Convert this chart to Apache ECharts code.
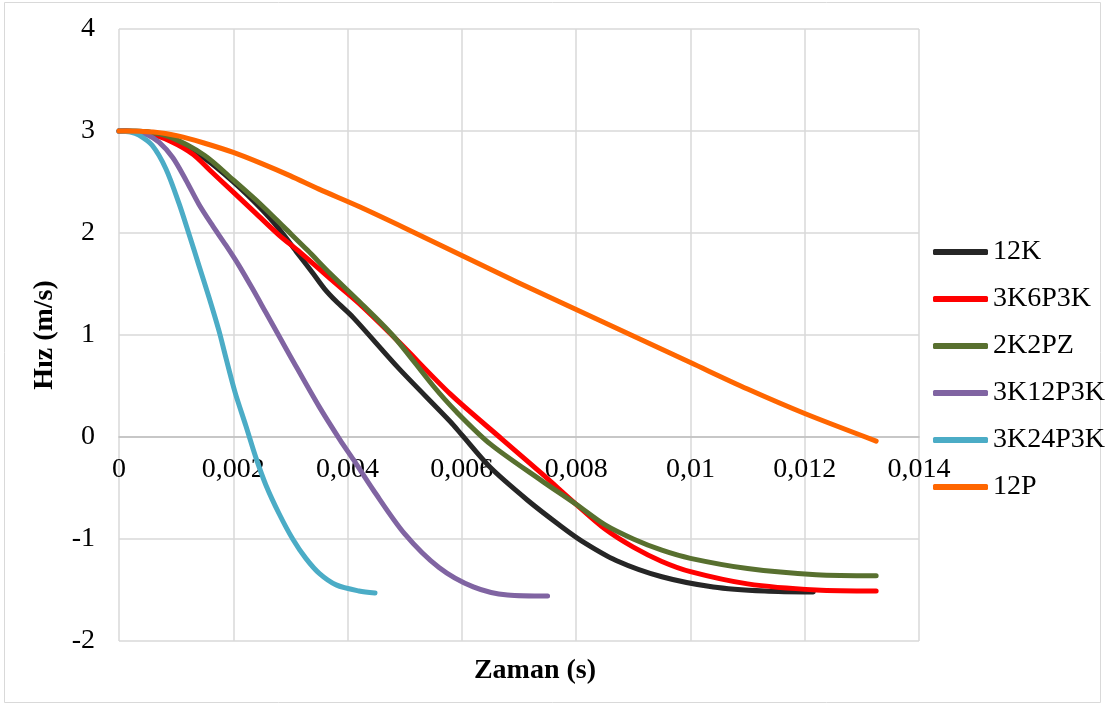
<!DOCTYPE html>
<html>
<head>
<meta charset="utf-8">
<script src="https://cdn.jsdelivr.net/npm/echarts@6/dist/echarts.min.js"></script>
<style>
html,body{margin:0;padding:0;background:#fff;}
#chart{width:1105px;height:705px;}
</style>
</head>
<body>
<div id="chart"></div>
<script>
// Time (s), speed (m/s)
const seriesNames = ['12K', '3K6P3K', '2K2PZ', '3K12P3K', '3K24P3K', '12P'];
const xTicks = [0, 0.002, 0.004, 0.006, 0.008, 0.01, 0.012, 0.014];
const yTicks = [-2, -1, 0, 1, 2, 3, 4];

const s12K = [[0,3],[0.0005,2.99],[0.0009,2.93],[0.0015,2.73],[0.002,2.5],[0.0025,2.23],[0.0028,2.04],[0.0031,1.82],[0.0034,1.6],[0.0036,1.45],[0.0038,1.33],[0.0041,1.17],[0.0049,0.67],[0.0058,0.15],[0.006,0.02],[0.0065,-0.3],[0.00715,-0.62],[0.0077,-0.86],[0.0081,-1.02],[0.0087,-1.21],[0.0095,-1.37],[0.0104,-1.47],[0.0113,-1.51],[0.01215,-1.52]];
const s3K6P3K = [[0,3],[0.0005,2.98],[0.0009,2.9],[0.0013,2.77],[0.0016,2.61],[0.002,2.4],[0.0024,2.19],[0.0028,1.98],[0.00317,1.81],[0.0037,1.55],[0.0042,1.31],[0.0049,0.93],[0.0058,0.42],[0.0067,-0.02],[0.0074,-0.36],[0.008,-0.66],[0.0085,-0.9],[0.009,-1.08],[0.0095,-1.22],[0.01,-1.32],[0.011,-1.44],[0.0122,-1.5],[0.01325,-1.51]];
const s2K2PZ = [[0,3],[0.0005,2.99],[0.0009,2.94],[0.0015,2.76],[0.002,2.52],[0.0025,2.27],[0.0029,2.05],[0.0033,1.83],[0.0037,1.6],[0.0042,1.33],[0.0048,0.99],[0.0055,0.5],[0.0059,0.25],[0.0065,-0.07],[0.0074,-0.43],[0.008,-0.66],[0.0085,-0.86],[0.009,-1.0],[0.0095,-1.11],[0.01,-1.19],[0.011,-1.29],[0.0122,-1.35],[0.01325,-1.36]];
const s3K12P3K = [[0,3],[0.0003,2.99],[0.0005,2.96],[0.0007,2.89],[0.00094,2.74],[0.00117,2.52],[0.0014,2.28],[0.00164,2.07],[0.00187,1.88],[0.0021,1.68],[0.00234,1.45],[0.00257,1.22],[0.0028,0.99],[0.003,0.79],[0.0035,0.3],[0.00387,-0.03],[0.0041,-0.22],[0.00445,-0.52],[0.005,-0.95],[0.0056,-1.28],[0.0062,-1.47],[0.0068,-1.55],[0.0075,-1.56]];
const s3K24P3K = [[0,3],[0.0002,2.99],[0.00035,2.96],[0.00058,2.86],[0.00082,2.63],[0.00105,2.29],[0.00123,1.98],[0.0014,1.68],[0.00158,1.36],[0.00175,1.04],[0.00186,0.8],[0.00203,0.44],[0.00222,0.11],[0.0024,-0.21],[0.00257,-0.47],[0.0028,-0.75],[0.00304,-1.0],[0.00327,-1.19],[0.00351,-1.34],[0.0038,-1.45],[0.0042,-1.51],[0.00448,-1.53]];
const s12P = [[0,3],[0.0006,2.99],[0.00105,2.95],[0.0015,2.88],[0.002,2.79],[0.0025,2.68],[0.003,2.56],[0.0035,2.43],[0.0042,2.26],[0.005,2.05],[0.006,1.78],[0.007,1.51],[0.008,1.25],[0.009,0.99],[0.01,0.73],[0.011,0.47],[0.012,0.23],[0.01325,-0.04]];

const seriesData = [s12K, s3K6P3K, s2K2PZ, s3K12P3K, s3K24P3K, s12P];
const colors = ['#262626', '#FF0000', '#58702F', '#8064A2', '#4BACC6', '#FF6600'];

const FONT = '"Liberation Serif", "Times New Roman", serif';
const FS = 28;
const chart = echarts.init(document.getElementById('chart'), null, {renderer: 'canvas'});

const fmtX = v => String(+v.toFixed(3)).replace('.', ',');

const gridTop = 29, gridBottom = 64, chartH = 705;
const plotH = chartH - gridTop - gridBottom;
const yMin = yTicks[0], yMax = yTicks[yTicks.length - 1];
// offset the x axis so that it sits on y = 0 (labels follow it)
const zeroFromBottom = plotH * (0 - yMin) / (yMax - yMin);

chart.setOption({
  animation: false,
  backgroundColor: '#ffffff',
  color: colors,
  textStyle: {fontFamily: FONT, color: '#000'},
  grid: {left: 119, right: 186, top: gridTop, bottom: gridBottom, containLabel: false},
  xAxis: {
    type: 'value',
    min: xTicks[0], max: xTicks[xTicks.length - 1], interval: 0.002,
    offset: -zeroFromBottom,
    axisLine: {show: true, onZero: false, lineStyle: {color: '#bfbfbf', width: 1.5}},
    axisTick: {show: false},
    axisLabel: {formatter: fmtX, fontFamily: FONT, fontSize: FS, color: '#000', margin: 19},
    splitLine: {show: true, lineStyle: {color: '#d9d9d9', width: 1.5}}
  },
  yAxis: {
    type: 'value',
    min: yMin, max: yMax, interval: 1,
    name: 'Hız (m/s)',
    nameLocation: 'middle',
    nameGap: 60,
    nameRotate: 90,
    nameTextStyle: {fontFamily: FONT, fontSize: FS, fontWeight: 'bold', color: '#000'},
    axisLine: {show: false},
    axisTick: {show: false},
    axisLabel: {fontFamily: FONT, fontSize: FS, color: '#000', margin: 24},
    splitLine: {show: true, lineStyle: {color: '#d9d9d9', width: 1.5}}
  },
  legend: {
    orient: 'vertical',
    left: 933,
    top: 238,
    padding: 0,
    icon: 'roundRect',
    itemWidth: 55,
    itemHeight: 6,
    itemGap: 19,
    data: seriesNames,
    textStyle: {fontFamily: FONT, fontSize: FS, color: '#000', lineHeight: 28}
  },
  graphic: [
    {type: 'rect', silent: true, z: -10,
     shape: {x: 4.5, y: 2.5, width: 1096, height: 700},
     style: {fill: 'none', stroke: '#d9d9d9', lineWidth: 1}},
    {type: 'text', silent: true,
     style: {text: 'Zaman (s)', font: 'bold 28px ' + FONT, fill: '#000', x: 535, y: 671, textAlign: 'center', textVerticalAlign: 'middle'}}
  ],
  series: seriesNames.map((n, i) => ({
    name: n,
    type: 'line',
    data: seriesData[i],
    smooth: 0.3,
    symbol: 'none',
    lineStyle: {width: 5, color: colors[i], cap: 'round', join: 'round'},
    itemStyle: {color: colors[i]},
    emphasis: {disabled: true}
  }))
});
</script>
</body>
</html>
